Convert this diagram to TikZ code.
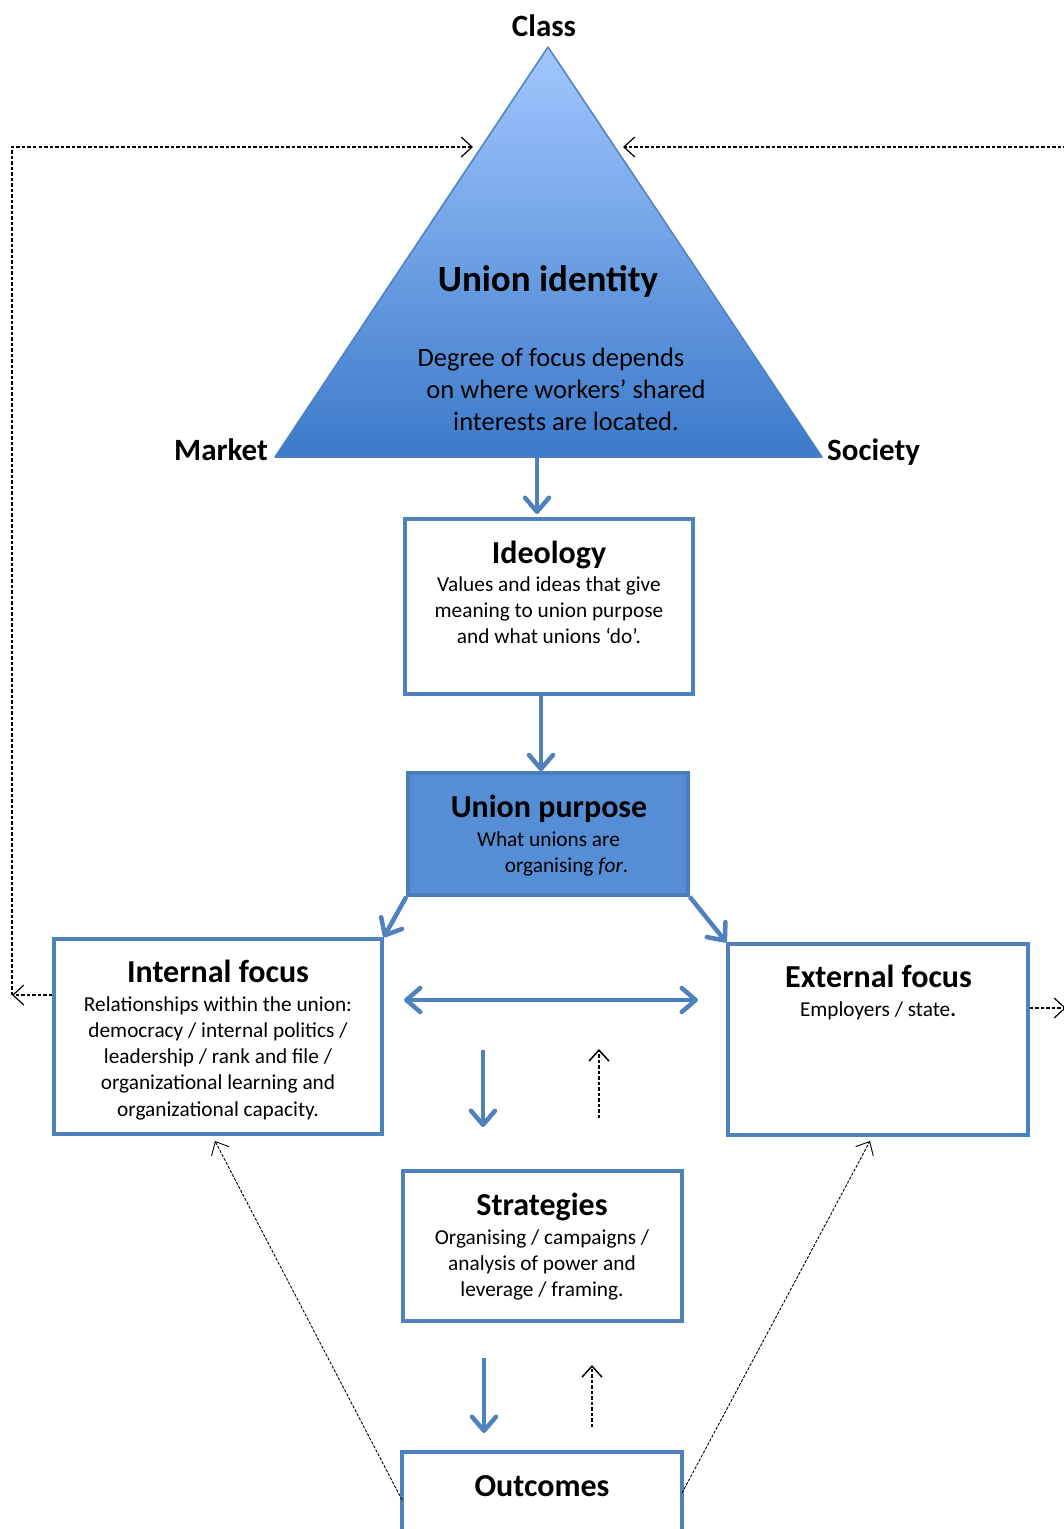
\documentclass[tikz,border=0pt]{standalone}
\usepackage{fontspec}
\setmainfont{Carlito}
\usetikzlibrary{arrows.meta}
\definecolor{boxblue}{HTML}{4F81BD}
\definecolor{purposefill}{HTML}{558ED5}
\definecolor{purposeline}{HTML}{4A7EBB}
\definecolor{tritop}{HTML}{A2C7FF}
\definecolor{tribot}{HTML}{3B7AC9}
\tikzset{
  bluebox/.style={draw=boxblue, line width=3.5pt, rectangle, inner sep=0pt},
  bluearrow/.style={draw=boxblue, line width=4.5pt, -{Straight Barb[length=14pt,width=24pt,round]}},
  bluedouble/.style={draw=boxblue, line width=4.5pt, {Straight Barb[length=14pt,width=24pt,round]}-{Straight Barb[length=14pt,width=24pt,round]}},
  dasharrow/.style={draw=black, line width=1.2pt, dash pattern=on 3.5pt off 2pt, -{Straight Barb[length=11pt,width=20pt]}},
  thindash/.style={draw=black, line width=0.9pt, dash pattern=on 3pt off 1.5pt, -{Straight Barb[length=11pt,width=20pt]}},
  titletext/.style={font=\fontsize{32}{38}\selectfont\bfseries, anchor=base, inner sep=0pt},
  bigtitle/.style={font=\fontsize{37}{44}\selectfont\bfseries, anchor=base, inner sep=0pt},
  cornerlabel/.style={font=\fontsize{31}{37}\selectfont\bfseries, anchor=base, inner sep=0pt},
  bodytext/.style={font=\fontsize{21.3}{26.3}\selectfont, anchor=base, inner sep=0pt, align=center},
  tritext/.style={font=\fontsize{26.5}{32}\selectfont, anchor=base, inner sep=0pt},
}
\begin{document}
\begin{tikzpicture}[x=1pt,y=-1pt]
\useasboundingbox (0,0) rectangle (1064,1529);
\begin{scope}
\clip (0,0) rectangle (1064,1529);

% triangle
\coordinate (apex) at (548,47);
\coordinate (bl) at (275,457);
\coordinate (br) at (822,457);
\shade[top color=tritop, bottom color=tribot] (apex) -- (bl) -- (br) -- cycle;
\draw[boxblue, line width=1.5pt, line join=round] (apex) -- (bl) -- (br) -- cycle;

\node[cornerlabel] (class) at (544,36) {Class};
\node[cornerlabel, anchor=base east] (market) at (268,460) {Market};
\node[cornerlabel, anchor=base west] (society) at (827,460) {Society};

\node[bigtitle] (uid) at (548,291) {Union identity};
\node[tritext] (d1) at (551,366) {Degree of focus depends};
\node[tritext] (d2) at (566,398) {on where workers’ shared};
\node[tritext] (d3) at (566,430) {interests are located.};

% boxes
\node[bluebox, minimum width=288pt, minimum height=175pt] (ideo) at (549,606.5) {};
\node[bluebox, draw=purposeline, fill=purposefill, minimum width=280pt, minimum height=122pt] (purp) at (548,834) {};
\node[bluebox, minimum width=328pt, minimum height=195pt] (intf) at (218,1036.5) {};
\node[bluebox, minimum width=300pt, minimum height=191pt] (extf) at (878,1039.5) {};
\node[bluebox, minimum width=279pt, minimum height=150pt] (strat) at (542.5,1246) {};
\node[bluebox, minimum width=280pt, minimum height=120pt] (outc) at (542,1512) {};

% texts (base anchor of a multi-line node = last line)
\node[titletext] (ideot) at (549,563) {Ideology};
\node[bodytext] (ideob) at (549,643.6) {Values and ideas that give\\meaning to union purpose\\and what unions ‘do’.};

\node[titletext] (purpt) at (549,817) {Union purpose};
\node[bodytext] (purpb1) at (548.5,846) {What unions are};
\node[bodytext] (purpb2) at (566.5,872) {organising \textit{for}.};

\node[titletext] (intft) at (218,982) {Internal focus};
\node[bodytext] (intfb) at (218,1116.2) {Relationships within the union:\\democracy / internal politics /\\leadership / rank and file /\\organizational learning and\\organizational capacity.};

\node[titletext] (extft) at (878.5,987) {External focus};
\node[bodytext] (extfb) at (878,1016) {Employers / state\textbf{.}};

\node[titletext] (stratt) at (542,1215) {Strategies};
\node[bodytext] (stratb) at (542,1296.6) {Organising / campaigns /\\analysis of power and\\leverage / framing.};

\node[titletext] (outct) at (542,1496) {Outcomes};

% blue arrows
\coordinate (tribase) at (537,457);
\draw[bluearrow] (tribase) -- (537,514);
\draw[bluearrow] ([xshift=-8pt]ideo.south) -- ([xshift=-7pt]purp.north);
\draw[bluearrow] (purp.south west) -- (intf.north east);
\draw[bluearrow] (purp.south east) -- (extf.north west);
\coordinate (dl) at (404,1000);
\coordinate (dr) at (698,1000);
\draw[bluedouble] (dl) -- (dr);
\coordinate (m1a) at (483,1050);
\coordinate (m1b) at (483,1127);
\draw[bluearrow] (m1a) -- (m1b);
\coordinate (m2a) at (484,1358);
\coordinate (m2b) at (484,1433);
\draw[bluearrow] (m2a) -- (m2b);

% dashed up arrows
\coordinate (u1a) at (599,1118);
\coordinate (u1b) at (599,1049);
\draw[dasharrow, line width=1.5pt] (u1a) -- (u1b);
\coordinate (u2a) at (592,1427);
\coordinate (u2b) at (592,1365);
\draw[dasharrow, line width=1.5pt] (u2a) -- (u2b);

% feedback loops
\coordinate (lc) at (12,995);
\coordinate (ltop) at (12,147);
\coordinate (ltri) at (473,147);
\draw[dasharrow] (intf.west |- lc) -- (lc);
\draw[dasharrow] (lc) -- (ltop) -- (ltri);
\coordinate (rout) at (1072,147);
\coordinate (rtri) at (623,147);
\draw[dasharrow] (rout) -- (rtri);
\coordinate (rext) at (1066,1008);
\draw[dasharrow] (extf.east |- rext) -- (rext);

% outcomes to focus
\coordinate (oil) at (402,1500);
\coordinate (oir) at (682,1493);
\draw[thindash] (oil) -- (215,1141);
\draw[thindash] (oir) -- (870,1141);
\end{scope}
\end{tikzpicture}
\end{document}
